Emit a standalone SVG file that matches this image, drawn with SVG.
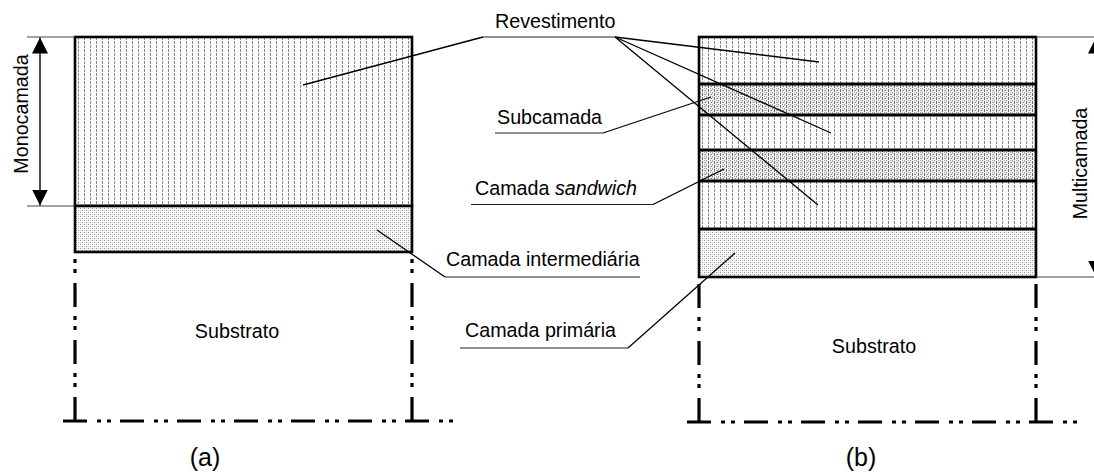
<svg xmlns="http://www.w3.org/2000/svg" width="1094" height="473" viewBox="0 0 1094 473">
  <style>
    .lbl { font-family: "Liberation Sans", Arial, sans-serif; font-size: 19.7px; fill: #000; }
    .cap { font-family: "Liberation Sans", Arial, sans-serif; font-size: 25px; fill: #000; }
    .box { stroke: #000; stroke-width: 2.6; }
    .sep { stroke: #000; stroke-width: 2.8; fill: none; }
    .sub { stroke: #000; stroke-width: 3.2; fill: none; stroke-dasharray: 24 10 4 6 4 9; }
    .lead { stroke: #000; stroke-width: 1.3; fill: none; }
    .under { stroke: #222; stroke-width: 1.1; fill: none; }
    .dim { stroke: #444; stroke-width: 1; fill: none; }
    .dimarrow { stroke: #000; stroke-width: 1.4; fill: none; }
  </style>
  <defs>
    <!-- coating: dashed vertical hatching -->
    <pattern id="hatch" patternUnits="userSpaceOnUse" x="75" y="37" width="6" height="4">
      <rect width="6" height="4" fill="#fff"/>
      <rect x="3" y="0" width="1" height="3" fill="#8a8a8a"/>
    </pattern>
    <!-- interlayers: hatching with stipple -->
    <pattern id="dense" patternUnits="userSpaceOnUse" x="75" y="37" width="6" height="4">
      <rect width="6" height="4" fill="#f4f4f4"/>
      <rect x="3" y="0" width="1" height="3" fill="#6e6e6e"/>
      <rect x="0" y="1" width="1" height="1" fill="#7a7a7a"/>
      <rect x="1" y="3" width="1" height="1" fill="#9a9a9a"/>
      <rect x="5" y="3" width="1" height="1" fill="#9a9a9a"/>
      <rect x="1" y="0" width="1" height="1" fill="#b5b5b5"/>
      <rect x="5" y="1" width="1" height="1" fill="#b5b5b5"/>
    </pattern>
    <!-- bond layers: fine stipple -->
    <pattern id="stipple" patternUnits="userSpaceOnUse" x="0" y="0" width="4" height="4">
      <rect width="4" height="4" fill="#fafafa"/>
      <rect x="0" y="0" width="1" height="1" fill="#9a9a9a"/>
      <rect x="2" y="2" width="1" height="1" fill="#9a9a9a"/>
      <rect x="2" y="0" width="1" height="1" fill="#cfcfcf"/>
      <rect x="0" y="2" width="1" height="1" fill="#cfcfcf"/>
    </pattern>
    <marker id="tip" viewBox="0 0 16 16" refX="16" refY="8" markerWidth="16" markerHeight="16" markerUnits="userSpaceOnUse" orient="auto">
      <path d="M0,0 L16,8 L0,16 Z" fill="#000"/>
    </marker>
  </defs>

  <!-- (a) single-layer coating -->
  <g id="a-revestimento">
    <rect class="box" x="75" y="37" width="337" height="169" fill="url(#hatch)"/>
  </g>
  <g id="a-intermediaria">
    <rect class="box" x="75" y="206" width="337" height="46" fill="url(#stipple)"/>
  </g>
  <g id="a-substrato">
    <path class="sub" d="M75,421 V252 M412,421 V252"/>
    <path class="sub" d="M63,421 H453"/>
    <text class="lbl" x="237" y="338" text-anchor="middle">Substrato</text>
  </g>
  <g id="a-monocamada">
    <path class="dim" d="M27,37 H75 M27,206 H75"/>
    <path class="dimarrow" d="M40,122 V37.5" marker-end="url(#tip)"/>
    <path class="dimarrow" d="M40,122 V205.5" marker-end="url(#tip)"/>
    <text class="lbl" transform="translate(28,114) rotate(-90)" text-anchor="middle">Monocamada</text>
  </g>
  <text class="cap" x="205" y="466" text-anchor="middle">(a)</text>

  <!-- (b) multilayer coating -->
  <g id="b-camadas">
    <rect x="699" y="37" width="337" height="47" fill="url(#hatch)"/>
    <rect x="699" y="84" width="337" height="31" fill="url(#dense)"/>
    <rect x="699" y="115" width="337" height="35" fill="url(#hatch)"/>
    <rect x="699" y="150" width="337" height="31" fill="url(#dense)"/>
    <rect x="699" y="181" width="337" height="48" fill="url(#hatch)"/>
    <rect x="699" y="229" width="337" height="48" fill="url(#stipple)"/>
    <path class="sep" d="M699,84 H1036 M699,115 H1036 M699,150 H1036 M699,181 H1036 M699,229 H1036"/>
    <rect class="box" x="699" y="37" width="337" height="240" fill="none"/>
  </g>
  <g id="b-substrato">
    <path class="sub" d="M699,422 V277 M1036,422 V277"/>
    <path class="sub" d="M687,422 H1078"/>
    <text class="lbl" x="874" y="353" text-anchor="middle">Substrato</text>
  </g>
  <g id="b-multicamada">
    <path class="dim" d="M1036,37 H1094 M1036,277 H1094"/>
    <path class="dimarrow" d="M1096,157 V37.5" marker-end="url(#tip)"/>
    <path class="dimarrow" d="M1096,157 V276.5" marker-end="url(#tip)"/>
    <text class="lbl" transform="translate(1087,163.5) rotate(-90)" text-anchor="middle">Multicamada</text>
  </g>
  <text class="cap" x="861" y="466" text-anchor="middle">(b)</text>

  <!-- callout labels -->
  <g id="lbl-revestimento">
    <text class="lbl" x="495" y="28">Revestimento</text>
    <path class="under" d="M483,37 H615"/>
  </g>
  <g id="lbl-subcamada">
    <text class="lbl" x="497" y="124">Subcamada</text>
    <path class="under" d="M495,133 H603"/>
  </g>
  <g id="lbl-sandwich">
    <text class="lbl" x="475" y="195">Camada <tspan font-style="italic">sandwich</tspan></text>
    <path class="under" d="M471,204.5 H653"/>
  </g>
  <g id="lbl-intermediaria">
    <text class="lbl" x="446" y="266">Camada intermediária</text>
    <path class="under" d="M445,277 H640"/>
  </g>
  <g id="lbl-primaria">
    <text class="lbl" x="465" y="337">Camada primária</text>
    <path class="under" d="M460,348 H628"/>
  </g>

  <!-- leader lines -->
  <g id="connectors">
    <path class="lead" d="M483,37 L303,85"/>
    <path class="lead" d="M615,37 L819,62"/>
    <path class="lead" d="M615,37 L831,133"/>
    <path class="lead" d="M615,37 L818,205"/>
    <path class="lead" d="M603,133 L711,97"/>
    <path class="lead" d="M653,204.5 L724,169"/>
    <path class="lead" d="M445,277 L377,230"/>
    <path class="lead" d="M628,348 L735,253"/>
  </g>
</svg>
